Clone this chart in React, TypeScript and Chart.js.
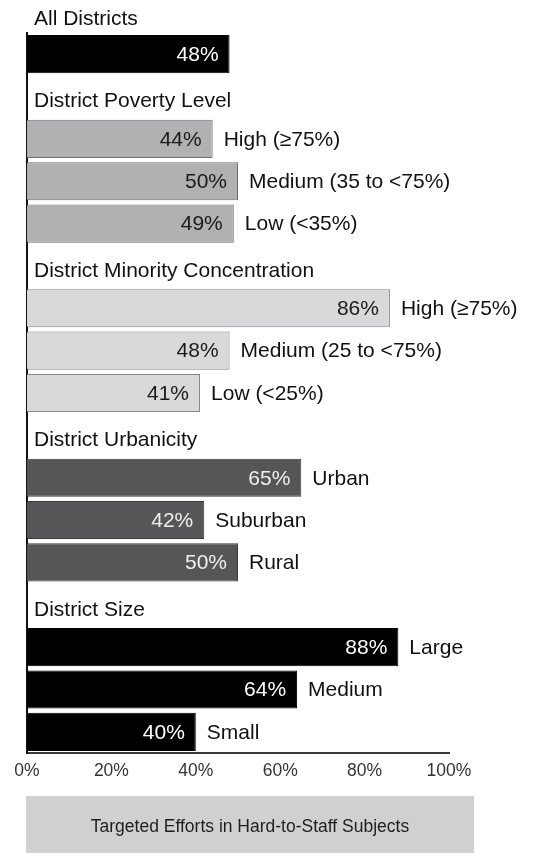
import React, { useEffect, useRef } from "react";
import { Chart, registerables } from "chart.js";

Chart.register(...registerables);

const groupTitles = [
  "All Districts",
  "District Poverty Level",
  "District Minority Concentration",
  "District Urbanicity",
  "District Size",
];

const allLabels = [""];
const allValues = [48];
const povertyLabels = ["High (\u226575%)", "Medium (35 to <75%)", "Low (<35%)"];
const povertyValues = [44, 50, 49];
const minorityLabels = ["High (\u226575%)", "Medium (25 to <75%)", "Low (<25%)"];
const minorityValues = [86, 48, 41];
const urbanLabels = ["Urban", "Suburban", "Rural"];
const urbanValues = [65, 42, 50];
const sizeLabels = ["Large", "Medium", "Small"];
const sizeValues = [88, 64, 40];

const xTicks = [0, 20, 40, 60, 80, 100];
const xTitle = "Targeted Efforts in Hard-to-Staff Subjects";

const groupStyles = [
  { fill: "#000000", border: "#000000", text: "#ffffff" },
  { fill: "#b1b1b4", border: "#707070", text: "#1a1a1a" },
  { fill: "#d9d9dc", border: "#858585", text: "#1a1a1a" },
  { fill: "#565658", border: "#3a3a3a", text: "#eeeeee" },
  { fill: "#000000", border: "#000000", text: "#ffffff" },
];

const FONT = "'Liberation Sans', Arial, sans-serif";

export default function App() {
  const ref = useRef<HTMLCanvasElement | null>(null);

  useEffect(() => {
    document.body.style.margin = "0";
    const groups = [
      { labels: allLabels, values: allValues },
      { labels: povertyLabels, values: povertyValues },
      { labels: minorityLabels, values: minorityValues },
      { labels: urbanLabels, values: urbanValues },
      { labels: sizeLabels, values: sizeValues },
    ];
    const rows: { key: string; value: number | null; label: string; group: number; heading?: string }[] = [];
    groups.forEach((g, gi) => {
      if (gi > 0) rows.push({ key: "h" + gi, value: null, label: "", group: gi, heading: groupTitles[gi] });
      g.values.forEach((v, i) => rows.push({ key: "r" + gi + "_" + i, value: v, label: g.labels[i], group: gi }));
    });

    const labelPlugin = {
      id: "labels",
      afterDatasetsDraw(chart: any) {
        const ctx = chart.ctx;
        const meta = chart.getDatasetMeta(0);
        const yScale = chart.scales.y;
        ctx.save();
        ctx.font = "21px " + FONT;
        ctx.textBaseline = "middle";
        rows.forEach((r, i) => {
          if (r.value === null) {
            const y = yScale.getPixelForValue(i);
            ctx.fillStyle = "#111111";
            ctx.textAlign = "left";
            ctx.fillText(r.heading, 34, y + 5);
            return;
          }
          const bar = meta.data[i];
          const st = groupStyles[r.group];
          ctx.fillStyle = st.text;
          ctx.textAlign = "right";
          ctx.fillText(r.value + "%", bar.x - 11, bar.y + 1);
          if (r.label) {
            ctx.fillStyle = "#111111";
            ctx.textAlign = "left";
            ctx.fillText(r.label, bar.x + 11, bar.y + 1);
          }
        });
        const firstY = yScale.getPixelForValue(0) - (yScale.getPixelForValue(1) - yScale.getPixelForValue(0));
        ctx.fillStyle = "#111111";
        ctx.textAlign = "left";
        ctx.fillText(groupTitles[0], 34, firstY + 7);
        ctx.restore();
      },
      afterDraw(chart: any) {
        const ctx = chart.ctx;
        ctx.save();
        ctx.fillStyle = "#d0d0d0";
        ctx.fillRect(26, 796, 448, 57);
        ctx.fillStyle = "#1e1e1e";
        ctx.font = "17.5px " + FONT;
        ctx.textAlign = "center";
        ctx.textBaseline = "middle";
        ctx.fillText(xTitle, 250, 827);
        ctx.restore();
      },
    };

    const chart = new Chart(ref.current as HTMLCanvasElement, {
      type: "bar",
      data: {
        labels: rows.map((r) => r.key),
        datasets: [
          {
            data: rows.map((r) => r.value) as any,
            backgroundColor: rows.map((r) => groupStyles[r.group].fill),
            borderColor: rows.map((r) => groupStyles[r.group].border),
            borderWidth: 1,
            borderSkipped: "left",
            barPercentage: 0.9,
            categoryPercentage: 1,
          },
        ],
      },
      options: {
        indexAxis: "y",
        responsive: false,
        animation: false,
        devicePixelRatio: 1,
        layout: { padding: { left: 27, right: 101, top: 33, bottom: 60 } },
        plugins: { legend: { display: false }, tooltip: { enabled: false } },
        scales: {
          x: {
            min: 0,
            max: 100,
            afterBuildTicks: (s: any) => {
              s.ticks = xTicks.map((v) => ({ value: v }));
            },
            afterFit: (s: any) => {
              s.height = 40;
            },
            grid: { display: false, drawTicks: false },
            border: { display: true, color: "#3a3a3a", width: 2 },
            ticks: {
              padding: 8,
              color: "#333333",
              font: { family: FONT, size: 17.5 },
              callback: (v: any) => v + "%",
            },
          },
          y: {
            afterFit: (s: any) => {
              s.width = 0;
            },
            grid: { display: false, drawTicks: false },
            border: { display: true, color: "#111111", width: 2 },
            ticks: { display: false },
          },
        },
      },
      plugins: [labelPlugin],
    } as any);
    return () => chart.destroy();
  }, []);

  return <canvas ref={ref} width={550} height={853} style={{ display: "block" }} />;
}
